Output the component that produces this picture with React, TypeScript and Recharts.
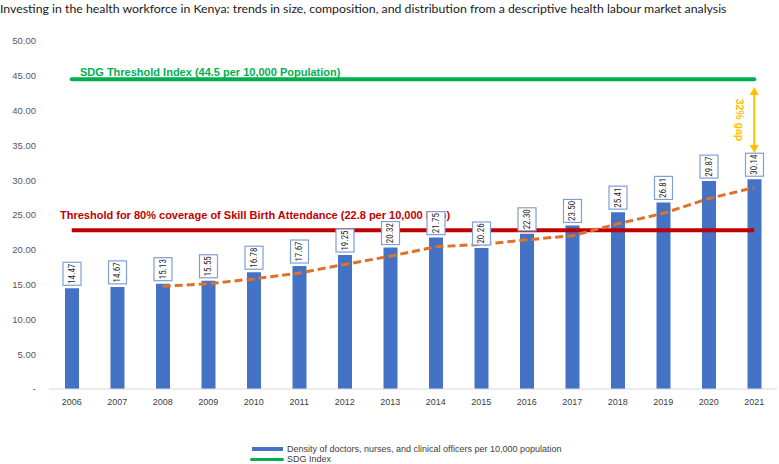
import React from 'react';
import { ComposedChart, Bar, Line, XAxis, YAxis, ReferenceLine, LabelList } from 'recharts';

const years = ['2006', '2007', '2008', '2009', '2010', '2011', '2012', '2013', '2014', '2015', '2016', '2017', '2018', '2019', '2020', '2021'];
const density = [14.47, 14.67, 15.13, 15.55, 16.78, 17.67, 19.25, 20.32, 21.75, 20.26, 22.3, 23.5, 25.41, 26.81, 29.87, 30.14];
const trend = [null, null, 14.76, 15.12, 15.82, 16.67, 17.9, 19.08, 20.44, 20.78, 21.44, 22.02, 23.74, 25.24, 27.36, 28.94];
const sdgIndex = [44.5, 44.5, 44.5, 44.5, 44.5, 44.5, 44.5, 44.5, 44.5, 44.5, 44.5, 44.5, 44.5, 44.5, 44.5, 44.5];
const sbaThreshold = [22.8, 22.8, 22.8, 22.8, 22.8, 22.8, 22.8, 22.8, 22.8, 22.8, 22.8, 22.8, 22.8, 22.8, 22.8, 22.8];
const yTicks = [0, 5, 10, 15, 20, 25, 30, 35, 40, 45, 50];
const gapArrow = { year: '2021', from: 43.4, to: 33.9, text: '32% gap' };

const title = 'Investing in the health workforce in Kenya: trends in size, composition, and distribution from a descriptive health labour market analysis';
const sdgText = 'SDG Threshold Index (44.5 per 10,000 Population)';
const sbaText = 'Threshold for 80% coverage of Skill Birth Attendance (22.8 per 10,000 Pop)';
const legendBar = 'Density of doctors, nurses, and clinical officers per 10,000 population';
const legendLine = 'SDG Index';

const data = years.map((y, i) => ({
  year: y,
  density: density[i],
  trend: trend[i],
  sdg: sdgIndex[i],
  sba: sbaThreshold[i],
}));

const narrow = '"Liberation Sans Narrow", "Arial Narrow", "Roboto Condensed", "Liberation Sans", Arial, sans-serif';
const sans = '"Liberation Sans", Arial, sans-serif';

const BoxLabel = (props: any) => {
  const { x, y, width, value } = props;
  const cx = x + width / 2;
  const bw = 18;
  const bh = 23;
  const top = y - 3 - bh;
  const cy = top + bh / 2;
  return (
    <g>
      <rect x={cx - bw / 2} y={top} width={bw} height={bh} fill="#ffffff" stroke="#7F9FD8" strokeWidth={1.2} />
      <text
        x={cx}
        y={cy}
        transform={`rotate(-90 ${cx} ${cy})`}
        textAnchor="middle"
        dominantBaseline="central"
        fontSize={9}
        fontFamily={narrow}
        fill="#262626"
      >
        {Number(value).toFixed(2)}
      </text>
    </g>
  );
};

const makeTextLabel = (text: string, color: string, dx: number, dy: number) => (props: any) => {
  const vb = props.viewBox || {};
  return (
    <text x={vb.x + dx} y={vb.y + dy} fontSize={11} fontWeight="bold" fontFamily={sans} fill={color} dominantBaseline="central">
      {text}
    </text>
  );
};

const ArrowShape = (props: any) => {
  const { x1, y1, y2 } = props;
  const color = '#FFC000';
  const top = Math.min(y1, y2);
  const bot = Math.max(y1, y2);
  const h = 8;
  const w = 4.5;
  const mid = (top + bot) / 2;
  const tx = x1 - 14;
  return (
    <g>
      <line x1={x1} y1={top + h - 1} x2={x1} y2={bot - h + 1} stroke={color} strokeWidth={2} />
      <polygon points={`${x1},${top} ${x1 - w},${top + h} ${x1 + w},${top + h}`} fill={color} />
      <polygon points={`${x1},${bot} ${x1 - w},${bot - h} ${x1 + w},${bot - h}`} fill={color} />
      <text
        x={tx}
        y={mid}
        transform={`rotate(90 ${tx} ${mid})`}
        textAnchor="middle"
        dominantBaseline="central"
        fontSize={10.5}
        fontWeight="bold"
        fontFamily={sans}
        fill={color}
      >
        {gapArrow.text}
      </text>
    </g>
  );
};

export default function App() {
  return (
    <div style={{ position: 'absolute', left: 0, top: 0, width: 779, height: 464, background: '#fff', overflow: 'hidden' }}>
      <div
        style={{
          position: 'absolute',
          left: 0,
          top: 2,
          fontFamily: 'Lato, "Open Sans", sans-serif',
          fontSize: 12.3,
          color: '#1a1a1a',
          whiteSpace: 'nowrap',
          lineHeight: '14px',
        }}
      >
        {title}
      </div>
      <ComposedChart
        width={779}
        height={464}
        data={data}
        margin={{ top: 41, right: 2, bottom: 45, left: 0 }}
        barCategoryGap={0}
      >
        <XAxis
          dataKey="year"
          height={30}
          tickLine={false}
          axisLine={{ stroke: '#d9d9d9' }}
          tick={{ fontSize: 9, fill: '#404040', fontFamily: sans }}
          tickMargin={4}
          interval={0}
        />
        <YAxis
          width={49}
          domain={[0, 50]}
          ticks={yTicks}
          tickLine={false}
          axisLine={false}
          tickMargin={7}
          tick={{ fontSize: 9.5, fill: '#595959', fontFamily: sans }}
          tickFormatter={(v: number) => (v === 0 ? '-' : v.toFixed(2))}
          interval={0}
        />
        <ReferenceLine y={44.5} stroke="none" label={makeTextLabel(sdgText, '#00B050', 31, -7)} />
        <ReferenceLine y={22.8} stroke="none" label={makeTextLabel(sbaText, '#C00000', 11, -15)} />
        <Bar dataKey="density" fill="#4472C4" barSize={14} isAnimationActive={false}>
          <LabelList dataKey="density" content={BoxLabel} />
        </Bar>
        <Line dataKey="sba" stroke="#C00000" strokeWidth={4} dot={false} activeDot={false} isAnimationActive={false} />
        <Line dataKey="sdg" stroke="#00B050" strokeWidth={4} dot={false} activeDot={false} isAnimationActive={false} strokeLinecap="round" />
        <Line dataKey="trend" stroke="#E0702A" strokeWidth={3} strokeDasharray="8 4" dot={false} activeDot={false} isAnimationActive={false} />
        <ReferenceLine
          segment={[{ x: gapArrow.year, y: gapArrow.from }, { x: gapArrow.year, y: gapArrow.to }]}
          shape={ArrowShape}
          ifOverflow="visible"
        />
      </ComposedChart>
      <div style={{ position: 'absolute', left: 250, top: 444, fontFamily: sans, fontSize: 9, color: '#404040', lineHeight: '10px' }}>
        <div style={{ display: 'flex', alignItems: 'center' }}>
          <span style={{ display: 'inline-block', width: 31, height: 4, background: '#4472C4', marginLeft: 2, marginRight: 4 }} />
          <span>{legendBar}</span>
        </div>
        <div style={{ display: 'flex', alignItems: 'center' }}>
          <span style={{ display: 'inline-block', width: 34, height: 3, background: '#00B050', borderRadius: 2, marginRight: 3 }} />
          <span>{legendLine}</span>
        </div>
      </div>
    </div>
  );
}
